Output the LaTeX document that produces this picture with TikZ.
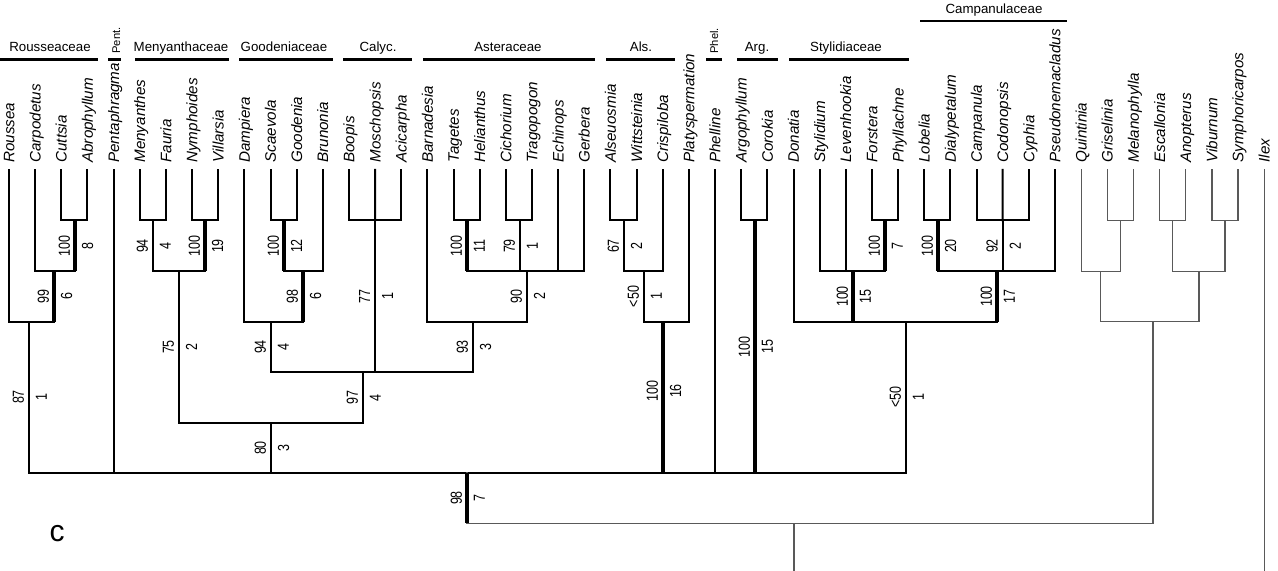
\documentclass[tikz,border=0pt]{standalone}
\usepackage{fontspec}
\setmainfont{Liberation Sans}
\usepackage{graphicx}
\newcommand{\sq}[1]{\scalebox{0.78}[1]{#1}}
\begin{document}
\begin{tikzpicture}[x=0.5pt, y=-0.5pt,
      br/.style={line width=1pt, line cap=rect},
      thk/.style={line width=2pt},
      gbr/.style={line width=0.6pt, draw=black!65, line cap=rect},
      leaf/.style={rotate=90, anchor=base west, inner sep=0pt, font=\fontsize{7.6}{8}\selectfont\itshape},
      bsl/.style={rotate=90, anchor=south, inner sep=0pt, font=\fontsize{8}{8}\selectfont},
      dil/.style={rotate=90, anchor=north, inner sep=0pt, font=\fontsize{8}{8}\selectfont},
      fam/.style={anchor=base, inner sep=0pt, font=\fontsize{6.65}{7}\selectfont},
      famr/.style={rotate=90, anchor=base west, inner sep=0pt, font=\fontsize{5.6}{6}\selectfont},
      famline/.style={line width=1.1pt}]
    \useasboundingbox (0,0) rectangle (1278,571);
    % taxa
    \foreach \nm [count=\i] in {Roussea, Carpodetus, Cuttsia, Abrophyllum, Pentaphragma, Menyanthes, Fauria, Nymphoides, Villarsia, Dampiera, Scaevola, Goodenia, Brunonia, Boopis, Moschopsis, Acicarpha, Barnadesia, Tagetes, Helianthus, Cichorium, Tragopogon, Echinops, Gerbera, Alseuosmia, Wittsteinia, Crispiloba, Platyspermation, Phelline, Argophyllum, Corokia, Donatia, Stylidium, Levenhookia, Forstera, Phyllachne, Lobelia, Dialypetalum, Campanula, Codonopsis, Cyphia, Pseudonemacladus, Quintinia, Griselinia, Melanophylla, Escallonia, Anopterus, Viburnum, Symphoricarpos, Ilex}{
      \node[leaf] (\nm) at ({14.4+26.15*(\i-1)},163) {\nm};
      \coordinate (t\i) at ({9+26.15*(\i-1)},170);
    }
    \coordinate (bot) at (0,571);
    % internal nodes
    \coordinate (nA1) at (75,220.5);
    \coordinate (nA2) at (54,271.2);
    \coordinate (nA3) at (29,321.8);
    \coordinate (nM1) at (153,220.5);
    \coordinate (nM2) at (205,220.5);
    \coordinate (nM3) at (179,271.2);
    \coordinate (nG1) at (284,220.5);
    \coordinate (nG2) at (303,271.2);
    \coordinate (nG3) at (271,321.8);
    \coordinate (nC1) at (375.1,220.5);
    \coordinate (nS1) at (467,220.5);
    \coordinate (nS2) at (520,220.5);
    \coordinate (nS3) at (527,271.2);
    \coordinate (nS4) at (473,321.8);
    \coordinate (nX1) at (363,372.4);
    \coordinate (nX2) at (271,423);
    \coordinate (nL1) at (624,220.5);
    \coordinate (nL2) at (644,271.2);
    \coordinate (nL3) at (663,321.8);
    \coordinate (nR1) at (755,220.5);
    \coordinate (nY1) at (885,220.5);
    \coordinate (nY2) at (853,271.2);
    \coordinate (nP1) at (938,220.5);
    \coordinate (nP2) at (1002.7,220.5);
    \coordinate (nP3) at (997,271.2);
    \coordinate (nY3) at (906,321.8);
    \coordinate (nI) at (467,472.8);
    \coordinate (nO1) at (1120.4,220.5);
    \coordinate (nO2) at (1100.8,271.2);
    \coordinate (nO3) at (1172.7,220.5);
    \coordinate (nO4) at (1225,220.5);
    \coordinate (nO5) at (1198.9,271.2);
    \coordinate (nO6) at (1153,321.8);
    \coordinate (nRt) at (794,523.4);
    % Rousseaceae
    \draw[br] (t3) |- (nA1) -| (t4);
    \draw[br] (t2) |- (nA2) -| (nA1);
    \draw[br] (t1) |- (nA3) -| (nA2);
    % Menyanthaceae
    \draw[br] (t6) |- (nM1) -| (t7);
    \draw[br] (t8) |- (nM2) -| (t9);
    \draw[br] (nM1) |- (nM3) -| (nM2);
    % Goodeniaceae
    \draw[br] (t11) |- (nG1) -| (t12);
    \draw[br] (nG1) |- (nG2) -| (t13);
    \draw[br] (t10) |- (nG3) -| (nG2);
    % Calyceraceae
    \draw[br] (t14) |- (nC1) -| (t16);
    \draw[br] (t15) -- (nC1);
    % Asteraceae
    \draw[br] (t18) |- (nS1) -| (t19);
    \draw[br] (t20) |- (nS2) -| (t21);
    \draw[br] (nS1) |- (nS3) -| (t23);
    \draw[br] (nS2) -- (nS2 |- nS3);
    \draw[br] (t22) -- (t22 |- nS3);
    \draw[br] (t17) |- (nS4) -| (nS3);
    \draw[br] (nG3) |- (nX1) -| (nS4);
    \draw[br] (nC1) -- (nC1 |- nX1);
    \draw[br] (nM3) |- (nX2) -| (nX1);
    % Alseuosmiaceae, Argophyllaceae
    \draw[br] (t24) |- (nL1) -| (t25);
    \draw[br] (nL1) |- (nL2) -| (t26);
    \draw[br] (nL2) |- (nL3) -| (t27);
    \draw[br] (t29) |- (nR1) -| (t30);
    % Stylidiaceae, Campanulaceae
    \draw[br] (t34) |- (nY1) -| (t35);
    \draw[br] (t32) |- (nY2) -| (nY1);
    \draw[br] (t33) -- (t33 |- nY2);
    \draw[br] (t36) |- (nP1) -| (t37);
    \draw[br] (t38) |- (nP2) -| (t40);
    \draw[br] (t39) -- (nP2);
    \draw[br] (nP1) |- (nP3) -| (t41);
    \draw[br] (nP2) -- (nP2 |- nP3);
    \draw[br] (t31) |- (nY3) -| (nP3);
    \draw[br] (nY2) -- (nY2 |- nY3);
    % backbone
    \draw[br] (nA3) |- (nI) -| (nY3);
    \foreach \c in {t5, nX2, nL3, t28, nR1}
      \draw[br] (\c) -- (\c |- nI);
    % outgroups
    \draw[gbr] (t43) |- (nO1) -| (t44);
    \draw[gbr] (t42) |- (nO2) -| (nO1);
    \draw[gbr] (t45) |- (nO3) -| (t46);
    \draw[gbr] (t47) |- (nO4) -| (t48);
    \draw[gbr] (nO3) |- (nO5) -| (nO4);
    \draw[gbr] (nO2) |- (nO6) -| (nO5);
    \draw[gbr] (nI) |- (nRt) -| (nO6);
    \draw[gbr] (nRt) -- (nRt |- bot);
    \draw[gbr] (t49) -- (t49 |- bot);
    % thick stems
    \foreach \c/\p in {nA1/nA2, nA2/nA3, nM2/nM3, nG1/nG2, nG2/nG3, nS1/nS3, nL3/nI, nR1/nI, nY1/nY2, nY2/nY3, nP1/nP3, nP3/nY3, nI/nRt}
      \draw[thk] (\c) -- (\c |- \p);
    % support values
    \foreach \x/\y/\b/\d [count=\k] in {75/246/100/8, 54/296.5/99/6, 29/397/87/1, 153/246/94/4, 205/246/100/19, 179/347/75/2, 284/246/100/12, 303/296.5/98/6, 271/347/94/4, 375.1/296.5/77/1, 467/246/100/11, 520/246/79/1, 527/296.5/90/2, 473/347/93/3, 363/397.7/97/4, 271/448/80/3, 624/246/67/2, 644/296.5/<50/1, 663/391/100/16, 755/346.7/100/15, 885/246/100/7, 853/296.5/100/15, 938/246/100/20, 1002.7/246/92/2, 997/296.5/100/17, 906/397/<50/1, 467/498/98/7}{
      \node[bsl] (bs\k) at ({\x-4.5},\y) {\sq{\b}};
      \node[dil] (di\k) at ({\x+6.5},\y) {\sq{\d}};
    }
    % families
    \node[fam] (fRou) at (50,51.7) {Rousseaceae};
    \draw[famline] (0,59.5) -- (98,59.5);
    \node[famr] (fPen) at (120,54) {Pent.};
    \draw[famline] (108,59.5) -- (121,59.5);
    \node[fam] (fMen) at (181,51.7) {Menyanthaceae};
    \draw[famline] (135,59.5) -- (229,59.5);
    \node[fam] (fGoo) at (284,51.7) {Goodeniaceae};
    \draw[famline] (239,59.5) -- (333,59.5);
    \node[fam] (fCal) at (378,51.7) {Calyc.};
    \draw[famline] (343,59.5) -- (412,59.5);
    \node[fam] (fAst) at (508,51.7) {Asteraceae};
    \draw[famline] (423,59.5) -- (595,59.5);
    \node[fam] (fAls) at (641,51.7) {Als.};
    \draw[famline] (606,59.5) -- (675,59.5);
    \node[famr] (fPhe) at (718,54) {Phel.};
    \draw[famline] (706,59.5) -- (722,59.5);
    \node[fam] (fArg) at (757,51.7) {Arg.};
    \draw[famline] (737,59.5) -- (778,59.5);
    \node[fam] (fSty) at (846,51.7) {Stylidiaceae};
    \draw[famline] (789,59.5) -- (909,59.5);
    \node[fam] (fCam) at (994,13.3) {Campanulaceae};
    \draw[famline] (920,21) -- (1067,21);
    \node[anchor=base, inner sep=0pt, font=\fontsize{15}{15}\selectfont] (panel) at (57,541.5) {c};
  \end{tikzpicture}
\end{document}
